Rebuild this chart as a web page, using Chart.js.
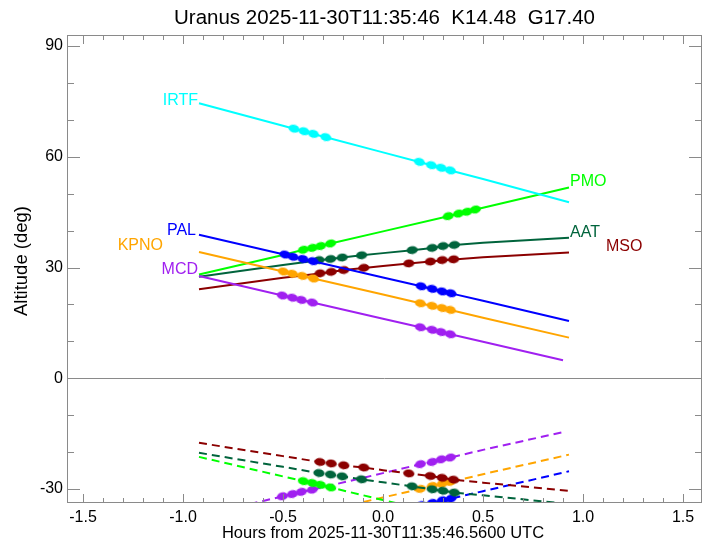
<!DOCTYPE html>
<html><head><meta charset="utf-8">
<script src="https://cdn.jsdelivr.net/npm/chart.js@4"></script>
<style>html,body{margin:0;padding:0;background:#fff}canvas{display:block}</style>
</head><body>
<canvas id="c" width="712" height="544"></canvas>
<script>
// ---- data (hours from reference time, altitude in degrees) ----
const hours    = [-0.92, -0.5, 0.0, 0.5, 0.93];
const hoursMCD = [-0.92, -0.5, 0.0, 0.5, 0.90];
const xTicks = [-1.5, -1.0, -0.5, 0.0, 0.5, 1.0, 1.5];
const yTicks = [-30, 0, 30, 60, 90];

const altIRTF = [74.5, 68.4, 61.2, 54.0, 47.7];
const altPMO  = [28.1, 33.4, 39.8, 46.2, 51.7];
const altAAT  = [27.5, 30.7, 33.9, 36.7, 38.1];
const altMSO  = [24.1, 27.2, 30.4, 32.8, 34.1];
const altPAL  = [38.9, 33.6, 27.3, 21.0, 15.5];
const altKPNO = [34.2, 28.9, 22.7, 16.4, 11.0];
const altMCD  = [27.7, 22.4, 16.1, 9.9, 4.9];

const lowPMO  = [-21.3, -26.6, -33.0, -39.3, -44.8];
const lowAAT  = [-20.2, -24.0, -28.2, -31.7, -34.1];
const lowMSO  = [-17.5, -21.1, -24.9, -28.3, -30.5];
const lowPAL  = [-48.2, -43.0, -36.8, -30.6, -25.2];
const lowKPNO = [-43.7, -38.4, -32.3, -26.0, -20.7];
const lowMCD  = [-37.4, -31.9, -25.7, -19.4, -14.6];

// marker times and altitudes
const tIRTF = [-0.445, -0.395, -0.348, -0.286, 0.182, 0.242, 0.291, 0.337];
const mIRTF = [67.6, 66.9, 66.2, 65.3, 58.6, 57.7, 57.0, 56.3];
const tPMO  = [-0.398, -0.353, -0.312, -0.262, 0.326, 0.378, 0.420, 0.462];
const mPMO  = [34.8, 35.3, 35.8, 36.5, 43.9, 44.6, 45.1, 45.7];
const lPMO  = [-27.9, -28.4, -28.9, -29.6, -37.0, -37.7, -38.2, -38.8];
const tAAT  = [-0.320, -0.262, -0.204, -0.107, 0.146, 0.246, 0.300, 0.357];
const mAAT  = [32.0, 32.3, 32.7, 33.3, 34.7, 35.3, 35.8, 36.1];
const lAAT  = [-25.7, -26.1, -26.6, -27.4, -29.3, -30.1, -30.5, -31.0];
const tMSO  = [-0.315, -0.259, -0.196, -0.096, 0.129, 0.237, 0.296, 0.353];
const mMSO  = [28.4, 28.8, 29.3, 29.9, 31.1, 31.6, 32.0, 32.2];
const lMSO  = [-22.7, -23.1, -23.6, -24.2, -25.8, -26.5, -27.0, -27.5];
const tPAL  = [-0.490, -0.450, -0.400, -0.350, 0.191, 0.246, 0.296, 0.340];
const mPAL  = [33.5, 32.9, 32.3, 31.7, 24.9, 24.2, 23.5, 23.0];
const lPAL  = [-42.9, -42.4, -41.8, -41.1, -34.4, -33.8, -33.1, -32.6];
const tKPNO = [-0.498, -0.453, -0.403, -0.348, 0.187, 0.246, 0.296, 0.337];
const mKPNO = [28.9, 28.3, 27.7, 27.0, 20.3, 19.6, 19.0, 18.5];
const lKPNO = [-38.5, -37.9, -37.3, -36.6, -30.0, -29.2, -28.6, -28.1];
const tMCD  = [-0.503, -0.453, -0.408, -0.353, 0.187, 0.246, 0.291, 0.337];
const mMCD  = [22.4, 21.8, 21.2, 20.5, 13.8, 13.1, 12.5, 11.9];
const lMCD  = [-32.0, -31.4, -30.8, -30.2, -23.3, -22.7, -22.0, -21.5];

const titleText = 'Uranus 2025-11-30T11:35:46  K14.48  G17.40';
const xTitle = 'Hours from 2025-11-30T11:35:46.5600 UTC';
const yTitle = 'Altitude (deg)';

// ---- styles ----
const FONT = "'Liberation Sans', Arial, Helvetica, sans-serif";
const GRAY = '#8a8a8a';
const col = {IRTF:'#00FFFF', PMO:'#00FF00', AAT:'#00643C', MSO:'#8B0000', PAL:'#0000FF', KPNO:'#FFA500', MCD:'#A020F0'};
// label anchor: which end of the solid line, pixel offsets, alignment
const labelStyle = {
  IRTF:{end:'start', dx:-1, dy:-3, align:'right'},
  PAL: {end:'start', dx:-3, dy:-4, align:'right'},
  KPNO:{end:'start', dx:-36, dy:-6, align:'right'},
  MCD: {end:'start', dx:-1, dy:-6, align:'right'},
  PMO: {end:'end', dx:1, dy:-6, align:'left'},
  AAT: {end:'end', dx:1, dy:-5, align:'left'},
  MSO: {end:'end', dx:37, dy:-6, align:'left'}
};

function ellipse(color){
  const c = document.createElement('canvas'); c.width = 13; c.height = 9;
  const g = c.getContext('2d'); g.fillStyle = color;
  g.beginPath(); g.ellipse(6.5, 4.5, 5.6, 3.9, 0, 0, Math.PI*2); g.fill();
  return c;
}
function merge(h, alt, t, m){
  const pts = h.map((x,i)=>({x:x, y:alt[i], m:false}));
  t.forEach((x,i)=>pts.push({x:x, y:m[i], m:true}));
  pts.sort((a,b)=>a.x-b.x);
  return pts;
}
function rot(ctx){
  const ch = ctx.chart, d = ch.data.datasets[ctx.datasetIndex].data;
  const xs = ch.scales.x, ys = ch.scales.y;
  if (!xs || !ys || !d.length) return 0;
  const a = d[0], b = d[d.length-1];
  return Math.atan2(ys.getPixelForValue(b.y)-ys.getPixelForValue(a.y), xs.getPixelForValue(b.x)-xs.getPixelForValue(a.x))*180/Math.PI;
}
function ds(name, data, dashed){
  return {
    label: name + (dashed ? ' (low)' : ''), tele: name, solid: !dashed,
    data: data, borderColor: col[name], backgroundColor: col[name],
    borderWidth: 2, borderDash: dashed ? [8,5] : [],
    pointRadius: c => (c.raw && c.raw.m) ? 4 : 0,
    pointHoverRadius: 0, pointStyle: ellipse(col[name]), pointRotation: rot,
    tension: 0, fill: false
  };
}

const datasets = [
  ds('PMO',  merge(hours, lowPMO, tPMO, lPMO), true),
  ds('AAT',  merge(hours, lowAAT, tAAT, lAAT), true),
  ds('MSO',  merge(hours, lowMSO, tMSO, lMSO), true),
  ds('PAL',  merge(hours, lowPAL, tPAL, lPAL), true),
  ds('KPNO', merge(hours, lowKPNO, tKPNO, lKPNO), true),
  ds('MCD',  merge(hoursMCD, lowMCD, tMCD, lMCD), true),
  ds('IRTF', merge(hours, altIRTF, tIRTF, mIRTF), false),
  ds('MCD',  merge(hoursMCD, altMCD, tMCD, mMCD), false),
  ds('KPNO', merge(hours, altKPNO, tKPNO, mKPNO), false),
  ds('PAL',  merge(hours, altPAL, tPAL, mPAL), false),
  ds('MSO',  merge(hours, altMSO, tMSO, mMSO), false),
  ds('AAT',  merge(hours, altAAT, tAAT, mAAT), false),
  ds('PMO',  merge(hours, altPMO, tPMO, mPMO), false)
];

const decor = {
  id: 'decor',
  beforeDatasetsDraw(chart){
    const {ctx, chartArea:a, scales:{y}} = chart;
    ctx.save(); ctx.strokeStyle = GRAY; ctx.lineWidth = 1;
    const y0 = Math.round(y.getPixelForValue(0)) + 0.5;
    ctx.beginPath(); ctx.moveTo(a.left, y0); ctx.lineTo(a.right, y0); ctx.stroke();
    ctx.restore();
  },
  afterDraw(chart){
    const {ctx, chartArea:a, scales:{x, y}} = chart;
    ctx.save();
    ctx.strokeStyle = GRAY; ctx.lineWidth = 1;
    ctx.strokeRect(a.left + 0.5, a.top + 0.5, a.right - a.left - 1, a.bottom - a.top - 1);
    ctx.beginPath();
    for (let k = -15; k <= 15; k++) {
      const v = k / 10, px = Math.round(x.getPixelForValue(v)) + 0.5;
      const len = (k % 5 === 0) ? 9 : 5;
      ctx.moveTo(px, a.bottom); ctx.lineTo(px, a.bottom - len);
      ctx.moveTo(px, a.top); ctx.lineTo(px, a.top + len);
    }
    for (let v = -30; v <= 90; v += 10) {
      const py = Math.round(y.getPixelForValue(v)) + 0.5;
      const len = (v % 30 === 0) ? 13 : 7;
      ctx.moveTo(a.left, py); ctx.lineTo(a.left + len, py);
      ctx.moveTo(a.right, py); ctx.lineTo(a.right - len, py);
    }
    ctx.stroke();

    // telescope labels
    ctx.font = '16px ' + FONT; ctx.textBaseline = 'middle';
    chart.data.datasets.forEach(d => {
      if (!d.solid) return;
      const st = labelStyle[d.tele];
      const p = st.end === 'start' ? d.data[0] : d.data[d.data.length-1];
      ctx.fillStyle = col[d.tele]; ctx.textAlign = st.align;
      ctx.fillText(d.tele, x.getPixelForValue(p.x) + st.dx, y.getPixelForValue(p.y) + st.dy);
    });

    // titles
    ctx.fillStyle = '#000'; ctx.textAlign = 'center';
    ctx.font = '20.5px ' + FONT;
    ctx.fillText(titleText, (a.left + a.right) / 2, 18);
    ctx.font = '16.5px ' + FONT;
    ctx.fillText(xTitle, x.getPixelForValue(0), 533);
    ctx.translate(22, 261); ctx.rotate(-Math.PI/2);
    ctx.font = '18.5px ' + FONT;
    ctx.fillText(yTitle, 0, 0);
    ctx.restore();
  }
};

new Chart(document.getElementById('c'), {
  type: 'line',
  data: { datasets: datasets },
  options: {
    responsive: false, animation: false, devicePixelRatio: 1,
    layout: { padding: { top: 35, right: 10, left: 0, bottom: 0 } },
    plugins: { legend: { display: false }, tooltip: { enabled: false }, title: { display: false } },
    elements: { line: { borderCapStyle: 'butt' } },
    scales: {
      x: {
        type: 'linear', min: -1.58, max: 1.595,
        afterBuildTicks: s => { s.ticks = xTicks.map(v => ({value: v})); },
        afterFit: s => { s.height = 41; },
        grid: { display: false, drawTicks: false }, border: { display: false },
        ticks: { autoSkip: false, maxRotation: 0, padding: 5, color: '#000',
                 font: { family: FONT, size: 16 }, callback: v => Number(v).toFixed(1) }
      },
      y: {
        type: 'linear', min: -33.8, max: 93,
        afterBuildTicks: s => { s.ticks = yTicks.map(v => ({value: v})); },
        afterFit: s => { s.width = 67; },
        grid: { display: false, drawTicks: false }, border: { display: false },
        ticks: { autoSkip: false, padding: 4, color: '#000',
                 font: { family: FONT, size: 16 }, callback: v => String(v) }
      }
    }
  },
  plugins: [decor]
});
</script>
</body></html>
